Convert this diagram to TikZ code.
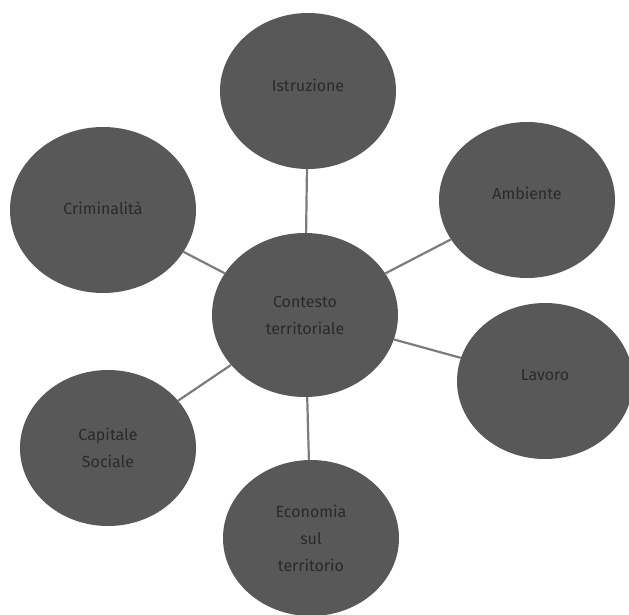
\documentclass[tikz,border=0pt]{standalone}
\usepackage{fontspec}
\setmainfont{Fira Sans}
\usepackage{tikz}
\usetikzlibrary{positioning, shapes.geometric}
\definecolor{topicgray}{HTML}{585858}
\definecolor{labelgray}{HTML}{2A2A2A}
\definecolor{linkgray}{HTML}{7C7C7C}

\begin{document}
\begin{tikzpicture}[
        x=1pt, y=-1pt,
        topic/.style={ellipse, fill=topicgray, draw=none, inner sep=0pt, minimum width=176pt, minimum height=156pt, align=center, text=labelgray, font=\fontsize{16}{27}\selectfont},
        core/.style={topic, minimum width=186pt, minimum height=164pt},
        link/.style={draw=linkgray, line width=2.2pt}
    ]
        \useasboundingbox (0,0) rectangle (629,614);

        \node[core] (CONTESTO) at (305,315) {Contesto\\territoriale};
        \node[topic] (ISTRUZIONE) at (308,91) {\raisebox{12pt}{Istruzione}};
        \node[topic] (AMBIENTE) at (527,200) {\raisebox{14pt}{Ambiente}};
        \node[topic] (LAVORO) at (545,381) {\raisebox{12pt}{Lavoro}};
        \node[topic] (ECONOMIA) at (311,538) {Economia\\sul\\territorio};
        \node[topic] (CAPITALE) at (108,448) {Capitale\\Sociale};
        \node[topic, minimum width=186pt, minimum height=166pt] (CRIMINALITA) at (103,210) {\raisebox{3pt}{Criminalità}};

        \draw[link] (CONTESTO) -- (ISTRUZIONE);
        \draw[link] (CONTESTO) -- (AMBIENTE);
        \draw[link] (CONTESTO) -- (LAVORO);
        \draw[link] (CONTESTO) -- (ECONOMIA);
        \draw[link] (CONTESTO) -- (CAPITALE);
        \draw[link] (CONTESTO) -- (CRIMINALITA);
    \end{tikzpicture}
\end{document}
